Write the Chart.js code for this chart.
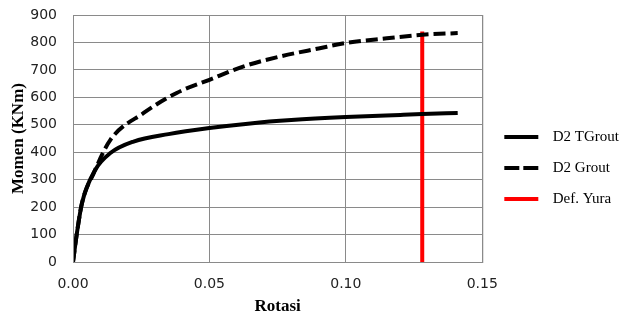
<!DOCTYPE html>
<html>
<head>
<meta charset="utf-8">
<script src="https://cdn.jsdelivr.net/npm/chart.js@4"></script>
<style>
  html, body { margin: 0; padding: 0; background: #fff; }
  #wrap { width: 619px; height: 320px; }
</style>
</head>
<body>
<div id="wrap"><canvas id="chart" width="619" height="320"></canvas></div>
<script>
// --- DATA ---
const rotasiTGrout = [0, 0.0015, 0.0033, 0.0082, 0.0137, 0.0222, 0.035, 0.05, 0.065, 0.08, 0.1, 0.12, 0.128, 0.141];
const momenTGrout  = [0, 110, 215, 336, 397, 439, 466, 488, 505, 517, 528, 536, 539, 543];

const rotasiGrout = [0, 0.0015, 0.0033, 0.0076, 0.0137, 0.0259, 0.038, 0.05, 0.0626, 0.076, 0.09, 0.1, 0.115, 0.128, 0.141];
const momenGrout  = [0, 110, 215, 324, 445, 543, 616, 664, 713, 749, 778, 798, 815, 828, 834];

const rotasiYura = [0.128, 0.128];
const momenYura  = [0, 840];

const seriesNames = ['D2 TGrout', 'D2 Grout', 'Def. Yura'];

function toPoints(xs, ys) {
    return xs.map((x, i) => ({ x: x, y: ys[i] }));
}

// little legend swatch: 34px line with some room before the label
function swatch(color, dash) {
    const c = document.createElement('canvas');
    c.width = 47; c.height = 8;
    const g = c.getContext('2d');
    g.strokeStyle = color;
    g.lineWidth = 4;
    g.setLineDash(dash);
    g.beginPath();
    g.moveTo(6, 4);
    g.lineTo(40, 4);
    g.stroke();
    return c;
}

const GRID = '#8a8a8a';

const ctx = document.getElementById('chart').getContext('2d');
const chart = new Chart(ctx, {
    type: 'line',
    data: {
        datasets: [
            { label: seriesNames[0], data: toPoints(rotasiTGrout, momenTGrout), borderColor: '#000', borderWidth: 4,
              pointRadius: 0, pointStyle: swatch('#000', []), tension: 0.4, cubicInterpolationMode: 'monotone', fill: false },
            { label: seriesNames[1], data: toPoints(rotasiGrout, momenGrout), borderColor: '#000', borderWidth: 4,
              borderDash: [12, 5], pointRadius: 0, pointStyle: swatch('#000', [15, 4]),
              tension: 0.4, cubicInterpolationMode: 'monotone', fill: false },
            { label: seriesNames[2], data: toPoints(rotasiYura, momenYura), borderColor: '#ff0000', borderWidth: 4,
              pointRadius: 0, pointStyle: swatch('#ff0000', []), tension: 0, fill: false }
        ]
    },
    options: {
        responsive: false,
        animation: false,
        layout: { padding: { left: 4, right: -10, top: 5, bottom: -11 } },
        plugins: {
            tooltip: { enabled: false },
            legend: {
                position: 'right',
                align: 'center',
                labels: {
                    usePointStyle: true,
                    pointStyleWidth: 47,
                    boxHeight: 15,
                    padding: 16,
                    color: '#000',
                    font: { family: 'Liberation Serif', size: 15 }
                }
            }
        },
        scales: {
            x: {
                type: 'linear',
                min: 0, max: 0.15,
                ticks: {
                    stepSize: 0.05,
                    color: '#222',
                    font: { family: 'DejaVu Sans', size: 14 },
                    padding: 14,
                    callback: v => v.toFixed(2)
                },
                grid: { color: GRID, lineWidth: 1, drawTicks: false },
                border: { color: GRID, width: 1 },
                title: { display: true, text: 'Rotasi', color: '#000',
                         font: { family: 'Liberation Serif', size: 17, weight: 'bold' }, padding: { top: 4, bottom: 14 } },
                afterFit(s) { s.height = 69; }
            },
            y: {
                min: 0, max: 900,
                ticks: {
                    stepSize: 100,
                    color: '#222',
                    font: { family: 'DejaVu Sans', size: 14 },
                    padding: 16
                },
                grid: { color: GRID, lineWidth: 1, drawTicks: false },
                border: { color: GRID, width: 1 },
                title: { display: true, text: 'Momen (KNm)', color: '#000',
                         font: { family: 'Liberation Serif', size: 17, weight: 'bold' }, padding: { top: 4, bottom: 2 } },
                afterFit(s) { s.width = 69; s.paddingTop = 15; }
            }
        }
    },
    plugins: [{
        // frame on the top and right edges like the reference
        id: 'frame',
        afterDraw(c) {
            const a = c.chartArea, g = c.ctx;
            g.save();
            g.strokeStyle = GRID;
            g.lineWidth = 1;
            g.strokeRect(a.left + 0.5, a.top + 0.5, a.right - a.left, a.bottom - a.top);
            g.restore();
        }
    }]
});
</script>
</body>
</html>
